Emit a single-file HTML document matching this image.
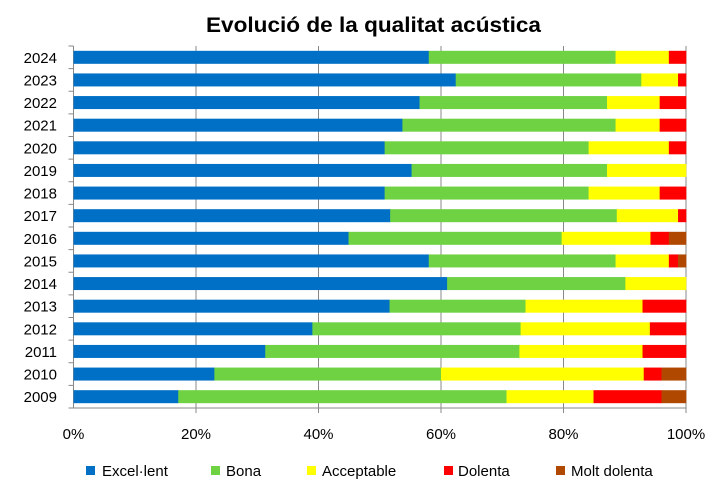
<!DOCTYPE html>
<html><head><meta charset="utf-8"><style>
html,body{margin:0;padding:0;background:#fff}
svg{display:block;font-family:"Liberation Sans",sans-serif}
</style></head><body>
<svg id="chart" width="721" height="491" viewBox="0 0 721 491" xmlns="http://www.w3.org/2000/svg">
<rect width="721" height="491" fill="#fff"/>
<text x="373.5" y="32" text-anchor="middle" font-size="21" font-weight="bold" textLength="335" lengthAdjust="spacingAndGlyphs">Evolució de la qualitat acústica</text>
<g id="grid" stroke="#888" stroke-width="1"></g>
<g id="bars"></g>
<g id="labels" font-size="15"></g>
<g font-size="15">
<rect x="86" y="466" width="9" height="9" fill="#0070C6"/><text x="102" y="476">Excel·lent</text>
<rect x="211" y="466" width="9" height="9" fill="#6ED242"/><text x="226" y="476">Bona</text>
<rect x="307" y="466" width="9" height="9" fill="#FFFF00"/><text x="322" y="476">Acceptable</text>
<rect x="444" y="466" width="9" height="9" fill="#FF0000"/><text x="458" y="476">Dolenta</text>
<rect x="556" y="466" width="9" height="9" fill="#B04800"/><text x="571" y="476">Molt dolenta</text>
</g>
</svg>
<script>
(function(){
var x0=73.5,W=612.5,yTop=46,yBot=408,n=16,step=(yBot-yTop)/n;
var data=[
["2024",[58.0,88.5,97.2,100]],
["2023",[62.4,92.7,98.7,100]],
["2022",[56.5,87.1,95.7,100]],
["2021",[53.7,88.5,95.7,100]],
["2020",[50.8,84.1,97.2,100]],
["2019",[55.2,87.1,100,100]],
["2018",[50.8,84.1,95.7,100]],
["2017",[51.7,88.7,98.7,100]],
["2016",[44.9,79.7,94.2,97.2,100]],
["2015",[58.0,88.5,97.2,98.7,100]],
["2014",[61.0,90.1,100,100]],
["2013",[51.6,73.8,92.9,100]],
["2012",[39.0,73.0,94.1,100]],
["2011",[31.3,72.8,92.9,100]],
["2010",[23.0,60.0,93.1,96.0,100]],
["2009",[17.1,70.7,84.9,96.0,100]]];
var cols=["#0070C6","#6ED242","#FFFF00","#FF0000","#B04800"];
var NS="http://www.w3.org/2000/svg";
function el(p,t,a,txt){var e=document.createElementNS(NS,t);for(var k in a)e.setAttribute(k,a[k]);if(txt)e.textContent=txt;p.appendChild(e);return e;}
var g=document.getElementById("grid"),b=document.getElementById("bars"),l=document.getElementById("labels");
for(var i=0;i<=5;i++){var x=x0+W*i/5;el(g,"line",{x1:x,y1:yTop,x2:x,y2:yBot+(i==0?0:5)});
el(l,"text",{x:x,y:439,"text-anchor":"middle"},(i*20)+"%");}
el(g,"line",{x1:x0,y1:yBot,x2:x0+W,y2:yBot});
for(var i=0;i<=n;i++){var y=yTop+step*i;el(g,"line",{x1:x0-5,y1:y,x2:x0,y2:y});}
data.forEach(function(d,i){var cy=yTop+step*(i+0.5);var prev=0;
d[1].forEach(function(v,j){if(v>prev){el(b,"rect",{x:x0+W*prev/100,y:cy-6.5,width:W*(v-prev)/100+0.3,height:13,fill:cols[j]});}prev=v;});
el(l,"text",{x:57,y:cy+5.5,"text-anchor":"end"},d[0]);});
})();
</script>
</body></html>
